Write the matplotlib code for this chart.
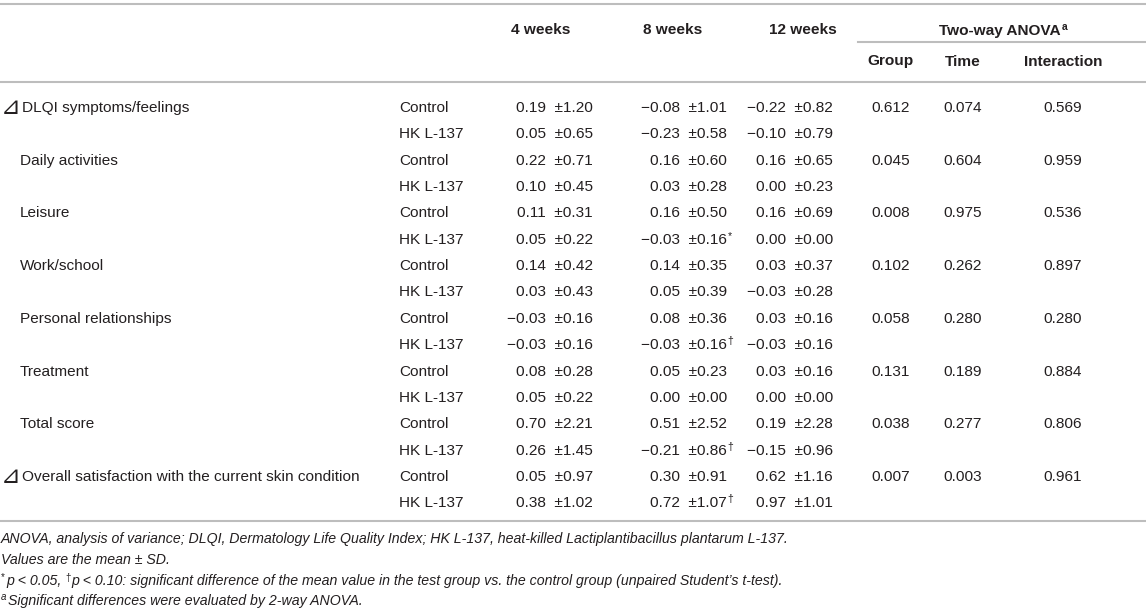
import matplotlib
matplotlib.use("Agg")
import matplotlib.pyplot as plt
from matplotlib import font_manager

# ---- table data -----------------------------------------------------------
measures = ["DLQI symptoms/feelings", "Daily activities", "Leisure", "Work/school",
            "Personal relationships", "Treatment", "Total score",
            "Overall satisfaction with the current skin condition"]
measure_delta = [True, False, False, False, False, False, False, True]
groups = ["Control", "HK L-137"]
weeks = ["4 weeks", "8 weeks", "12 weeks"]
anova_cols = ["Group", "Time", "Interaction"]

# rows: Control, HK L-137 for each measure in order
week4_mean = [0.19, 0.05, 0.22, 0.10, 0.11, 0.05, 0.14, 0.03,
              -0.03, -0.03, 0.08, 0.05, 0.70, 0.26, 0.05, 0.38]
week4_sd = [1.20, 0.65, 0.71, 0.45, 0.31, 0.22, 0.42, 0.43,
            0.16, 0.16, 0.28, 0.22, 2.21, 1.45, 0.97, 1.02]
week8_mean = [-0.08, -0.23, 0.16, 0.03, 0.16, -0.03, 0.14, 0.05,
              0.08, -0.03, 0.05, 0.00, 0.51, -0.21, 0.30, 0.72]
week8_sd = [1.01, 0.58, 0.60, 0.28, 0.50, 0.16, 0.35, 0.39,
            0.36, 0.16, 0.23, 0.00, 2.52, 0.86, 0.91, 1.07]
week8_mark = ["", "", "", "", "", "*", "", "",
              "", "\u2020", "", "", "", "\u2020", "", "\u2020"]
week12_mean = [-0.22, -0.10, 0.16, 0.00, 0.16, 0.00, 0.03, -0.03,
               0.03, -0.03, 0.03, 0.00, 0.19, -0.15, 0.62, 0.97]
week12_sd = [0.82, 0.79, 0.65, 0.23, 0.69, 0.00, 0.37, 0.28,
             0.16, 0.16, 0.16, 0.00, 2.28, 0.96, 1.16, 1.01]

p_group = [0.612, 0.045, 0.008, 0.102, 0.058, 0.131, 0.038, 0.007]
p_time = [0.074, 0.604, 0.975, 0.262, 0.280, 0.189, 0.277, 0.003]
p_inter = [0.569, 0.959, 0.536, 0.897, 0.280, 0.884, 0.806, 0.961]

note_abbrev = ("ANOVA, analysis of variance; DLQI, Dermatology Life Quality Index; "
               "HK L-137, heat-killed Lactiplantibacillus plantarum L-137.")
note_values = "Values are the mean \u00b1 SD."
note_p1 = "p < 0.05,"
note_p2 = ("p < 0.10: significant difference of the mean value in the test "
           "group vs. the control group (unpaired Student\u2019s t-test).")
note_anova = "Significant differences were evaluated by 2-way ANOVA."

# ---- styling --------------------------------------------------------------
names = {f.name for f in font_manager.fontManager.ttflist}
FONT = "Liberation Sans" if "Liberation Sans" in names else "DejaVu Sans"
plt.rcParams["font.family"] = [FONT, "DejaVu Sans"]
TXT = "#231f20"
RULE = "#bdbdbd"
FS = 11.1
FS_NOTE = 10.2

W, H = 1146, 615
fig = plt.figure(figsize=(W / 100, H / 100), dpi=100)
ax = fig.add_axes([0, 0, 1, 1])
ax.set_xlim(0, W)
ax.set_ylim(H, 0)
ax.axis("off")
renderer = fig.canvas.get_renderer()


def txt(x, y, s, **kw):
    kw.setdefault("fontsize", FS)
    kw.setdefault("color", TXT)
    kw.setdefault("va", "baseline")
    return ax.text(x, y, s, **kw)


def right_edge(t):
    bb = t.get_window_extent(renderer)
    return ax.transData.inverted().transform((bb.x1, bb.y0))[0]


def fmt(v):
    return f"{v:.2f}".replace("-", "\u2212")


# rules
ax.plot([0, W], [4, 4], color=RULE, lw=1.5)
ax.plot([858, W], [42, 42], color=RULE, lw=1.5)
ax.plot([0, W], [82, 82], color=RULE, lw=1.5)
ax.plot([0, W], [521, 521], color=RULE, lw=1.5)

# header
CAP = 5.5
week_cx = [541, 673, 803]
for cx, w in zip(week_cx, weeks):
    txt(cx, 29 + CAP, w, ha="center", fontweight="bold")
t = txt(1000, 29 + CAP, "Two-way ANOVA", ha="center", fontweight="bold")
txt(right_edge(t) + 1, 29 + CAP - 5, "a", fontsize=7.5, fontweight="bold", ha="left")
anova_cx = [891, 963, 1063]
for cx, a in zip(anova_cx, anova_cols):
    txt(cx, 60 + CAP, a, ha="center", fontweight="bold")

# body
Y0, PITCH = 106.5, 26.35
week_right = [593, 727, 833]
series = [(week4_mean, week4_sd, None), (week8_mean, week8_sd, week8_mark),
          (week12_mean, week12_sd, None)]
for i in range(len(week4_mean)):
    y = Y0 + i * PITCH + CAP
    m = i // 2
    if i % 2 == 0:
        if measure_delta[m]:
            ax.text(1, y + 2, "\u22bf", fontsize=17, color=TXT, va="baseline",
                    family=["DejaVu Sans"])
            txt(22, y, measures[m])
        else:
            txt(20, y, measures[m])
        for cx, pv in zip(anova_cx, (p_group[m], p_time[m], p_inter[m])):
            txt(cx, y, f"{pv:.3f}", ha="center")
    txt(399, y, groups[i % 2])
    for xr, (mean, sd, mark) in zip(week_right, series):
        txt(xr, y, f"{fmt(mean[i])}  \u00b1{sd[i]:.2f}", ha="right")
        if mark and mark[i]:
            txt(xr + 0.5, y - 5, mark[i], fontsize=7.5, ha="left")

# footnotes
fy = [539, 559, 580, 600]
yb = [y + 4.5 for y in fy]
txt(1, yb[0], note_abbrev, fontsize=FS_NOTE, style="italic")
txt(1, yb[1], note_values, fontsize=FS_NOTE, style="italic")
txt(1, yb[2] - 4, "*", fontsize=7)
t = txt(6, yb[2], note_p1, fontsize=FS_NOTE, style="italic")
t = txt(right_edge(t) + 4, yb[2] - 4, "\u2020", fontsize=7)
txt(right_edge(t) + 1, yb[2], note_p2, fontsize=FS_NOTE, style="italic")
txt(1, yb[3] - 4, "a", fontsize=7, style="italic")
txt(8, yb[3], note_anova, fontsize=FS_NOTE, style="italic")

fig.savefig("out.png", dpi=100, facecolor="white")
